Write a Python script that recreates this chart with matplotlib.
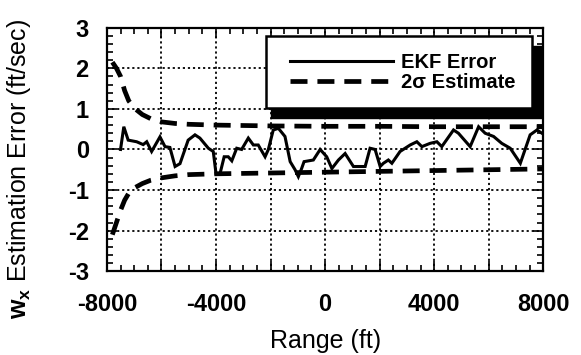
import numpy as np
import matplotlib
matplotlib.use("Agg")
from matplotlib import pyplot as plt
from matplotlib.ticker import MultipleLocator, FixedLocator, FixedFormatter
from matplotlib.patches import Rectangle

plt.rcParams['font.family'] = ['Liberation Sans', 'DejaVu Sans']
plt.rcParams['mathtext.fontset'] = 'custom'
plt.rcParams['mathtext.rm'] = 'Liberation Sans'
plt.rcParams['mathtext.bf'] = 'Liberation Sans:bold'
plt.rcParams['axes.unicode_minus'] = False

# EKF error trace
ekf_range = [-7500, -7380, -7220, -6910, -6670, -6540, -6360, -6055, -5870, -5690,
             -5500, -5320, -5020, -4770, -4590, -4280, -4100, -4000, -3850, -3700,
             -3550, -3420, -3240, -3060, -2815, -2630, -2450, -2200, -2080, -1900,
             -1710, -1470, -1280, -1100, -980, -860, -770, -430, -180, 60,
             250, 490, 735, 1040, 1470, 1650, 1835, 2020, 2140, 2320,
             2450, 2750, 3120, 3365, 3550, 3850, 4100, 4280, 4710, 4890,
             5320, 5630, 5870, 6180, 6480, 6790, 7160, 7520, 7770, 7950]
ekf_err = [0.0, 0.56, 0.23, 0.19, 0.12, 0.19, -0.05, 0.31, 0.07, 0.05,
           -0.42, -0.35, 0.23, 0.36, 0.28, 0.03, -0.05, -0.59, -0.59, -0.18,
           -0.18, -0.28, 0.03, 0.0, 0.28, 0.11, 0.11, -0.18, 0.0, 0.48,
           0.52, 0.32, -0.30, -0.50, -0.67, -0.47, -0.30, -0.26, 0.0, -0.18,
           -0.47, -0.26, -0.10, -0.42, -0.42, 0.03, 0.0, -0.42, -0.34, -0.26,
           -0.34, -0.05, 0.11, 0.19, 0.07, 0.15, 0.19, 0.07, 0.48, 0.40,
           0.07, 0.56, 0.40, 0.32, 0.15, 0.03, -0.34, 0.36, 0.48, 0.40]

# 2-sigma envelope
sig_range = [-7800, -7650, -7500, -7350, -7200, -7000, -6700, -6400, -6000, -5500,
             -5000, -4000, -3000, -2000, 0, 2000, 4000, 6000, 8000]
sig_upper = [2.15, 2.0, 1.8, 1.45, 1.2, 1.02, 0.86, 0.76, 0.68, 0.64,
             0.62, 0.60, 0.59, 0.58, 0.57, 0.57, 0.56, 0.56, 0.56]
sig_lower = [-2.1, -1.8, -1.5, -1.25, -1.08, -0.95, -0.84, -0.76, -0.70, -0.65,
             -0.62, -0.60, -0.59, -0.58, -0.56, -0.54, -0.52, -0.50, -0.48]

x_ticks = [-8000, -6000, -4000, -2000, 0, 2000, 4000, 6000, 8000]
x_labels = ['-8000', '', '-4000', '', '0', '', '4000', '', '8000']
y_ticks = [-3, -2, -1, 0, 1, 2, 3]

fig = plt.figure(figsize=(5.81, 3.55), dpi=100)
ax = fig.add_axes([0.184, 0.236, 0.751, 0.686])

ax.plot(ekf_range, ekf_err, color='black', lw=2.2, solid_joinstyle='miter',
        label='EKF Error', zorder=3)
ax.plot(sig_range, sig_upper, color='black', lw=3.4, dashes=(3.6, 2.1),
        label='2σ Estimate', zorder=3)
ax.plot(sig_range, sig_lower, color='black', lw=3.4, dashes=(3.6, 2.1), zorder=3)

ax.set_xlim(-8000, 8000)
ax.set_ylim(-3, 3)
ax.xaxis.set_major_locator(FixedLocator(x_ticks))
ax.xaxis.set_major_formatter(FixedFormatter(x_labels))
ax.xaxis.set_minor_locator(MultipleLocator(500))
ax.yaxis.set_major_locator(FixedLocator(y_ticks))
ax.yaxis.set_minor_locator(MultipleLocator(0.2))

ax.grid(True, which='major', color='black', lw=1.3, ls=(0, (1.2, 1.6)), zorder=1)

ax.tick_params(which='both', direction='in', top=True, right=True, width=1.2)
ax.tick_params(which='major', length=7)
ax.tick_params(which='minor', length=4.5)
ax.tick_params(axis='x', which='major', pad=16, labelsize=17)
ax.tick_params(axis='y', which='major', pad=13, labelsize=17)
for lab in ax.get_xticklabels() + ax.get_yticklabels():
    lab.set_fontweight('bold')

for sp in ax.spines.values():
    sp.set_linewidth(1.6)

ax.set_xlabel('Range (ft)', fontsize=18, labelpad=9)
ax.set_ylabel(r'$\mathbf{w_x}$ Estimation Error (ft/sec)', fontsize=18)
ax.yaxis.set_label_coords(-0.17, 0.42)

# legend box with heavy drop shadow
bx, by, bw, bh = 0.365, 0.67, 0.61, 0.295
ax.add_patch(Rectangle((bx + 0.01, by - 0.042), bw + 0.013, bh, transform=ax.transAxes,
                       facecolor='black', edgecolor='black', zorder=4))
ax.add_patch(Rectangle((bx, by), bw, bh, transform=ax.transAxes,
                       facecolor='white', edgecolor='black', lw=1.8, zorder=5))
leg = ax.legend(loc='center right', bbox_to_anchor=(bx + bw - 0.02, by + bh / 2),
                frameon=False, fontsize=14.5, handlelength=5.1, labelspacing=0.05,
                handletextpad=0.4, borderaxespad=0)
leg.set_zorder(6)
for t in leg.get_texts():
    t.set_fontweight('bold')

fig.savefig('out.png', dpi=100)
